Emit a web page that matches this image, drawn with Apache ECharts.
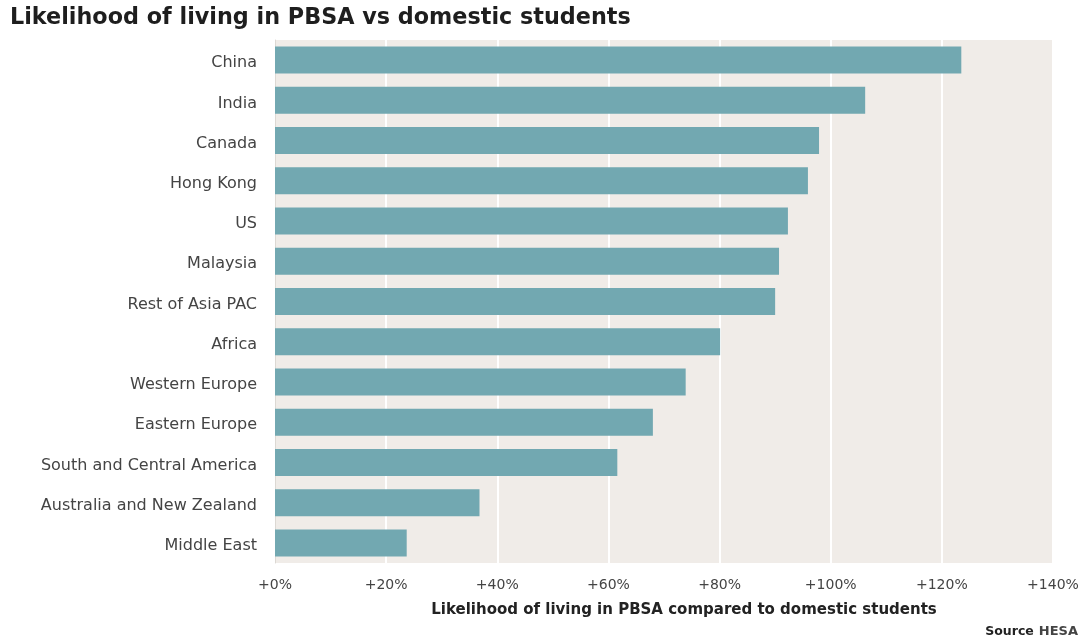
<!DOCTYPE html>
<html>
<head>
<meta charset="utf-8">
<style>
  html, body { margin: 0; padding: 0; background: #ffffff; }
  #chart { width: 1086px; height: 638px; }
</style>
<script src="https://cdn.jsdelivr.net/npm/echarts@6/dist/echarts.min.js"></script>
</head>
<body>
<div id="chart"></div>
<script>
// Regions, listed top to bottom as drawn
const categories = [
  'China', 'India', 'Canada', 'Hong Kong', 'US', 'Malaysia', 'Rest of Asia PAC',
  'Africa', 'Western Europe', 'Eastern Europe', 'South and Central America',
  'Australia and New Zealand', 'Middle East'
];
// Extra likelihood of living in PBSA relative to domestic students (%)
const likelihood = [123.5, 106.2, 97.9, 95.9, 92.3, 90.7, 90.0, 80.1, 73.9, 68.0, 61.6, 36.8, 23.7];
const xTicks = [0, 20, 40, 60, 80, 100, 120, 140];

const font = '"DejaVu Sans", Verdana, sans-serif';
const chart = echarts.init(document.getElementById('chart'), null, { renderer: 'canvas' });

chart.setOption({
  backgroundColor: '#ffffff',
  animation: false,
  title: [
    {
      text: 'Likelihood of living in PBSA vs domestic students',
      left: 10, top: 7, padding: 0,
      textStyle: { fontFamily: font, fontWeight: 'bold', fontSize: 22.3, color: '#1e1e1e' }
    },
    {
      text: '{b|Source} {r|HESA}',
      right: 8, top: 623, padding: 0,
      textStyle: {
        rich: {
          b: { fontFamily: font, fontWeight: 'bold', fontSize: 12.5, color: '#222', lineHeight: 15 },
          r: { fontFamily: font, fontSize: 13, color: '#444', lineHeight: 15 }
        }
      }
    }
  ],
  grid: { left: 275, right: 33, top: 40, bottom: 75, backgroundColor: '#f0ece8', show: true, borderWidth: 0 },
  xAxis: {
    type: 'value',
    min: xTicks[0],
    max: xTicks[xTicks.length - 1],
    interval: 20,
    axisLine: { show: false },
    axisTick: { show: false },
    splitLine: { show: true, lineStyle: { color: '#ffffff', width: 2 } },
    axisLabel: {
      formatter: v => '+' + v + '%',
      fontFamily: font, fontSize: 14, color: '#444', margin: 15
    },
    name: 'Likelihood of living in PBSA compared to domestic students',
    nameLocation: 'middle',
    nameGap: 40,
    nameTextStyle: { fontFamily: font, fontWeight: 'bold', fontSize: 15, color: '#222', padding: [0, 0, 0, 40] }
  },
  yAxis: {
    type: 'category',
    data: categories,
    inverse: true,
    axisLine: { show: true, lineStyle: { color: '#dcd8d3', width: 1 } },
    axisTick: { show: false },
    axisLabel: {
      margin: 18,
      formatter: v => '{c|' + v + '}',
      rich: {
        c: { fontFamily: font, fontSize: 16, color: '#444', padding: [6, 0, 0, 0] }
      }
    }
  },
  series: [{
    type: 'bar',
    data: likelihood,
    barWidth: 27,
    itemStyle: { color: '#72a8b1' }
  }]
});
</script>
</body>
</html>
